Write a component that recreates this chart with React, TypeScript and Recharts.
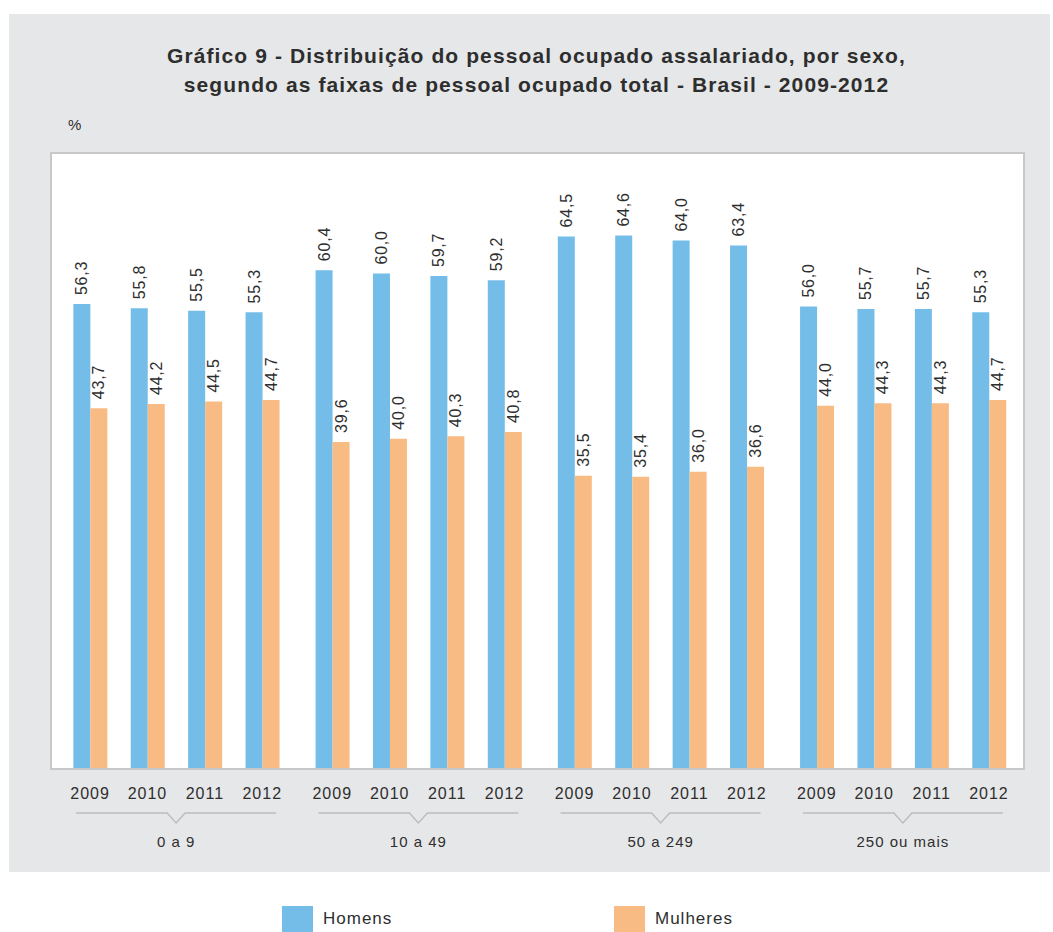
import { BarChart, Bar, XAxis, YAxis, LabelList, ReferenceArea } from 'recharts';

const groups = ['0 a 9', '10 a 49', '50 a 249', '250 ou mais'];
const years = ['2009', '2010', '2011', '2012'];
const homens = [56.3, 55.8, 55.5, 55.3, 60.4, 60.0, 59.7, 59.2, 64.5, 64.6, 64.0, 63.4, 56.0, 55.7, 55.7, 55.3];
const mulheres = [43.7, 44.2, 44.5, 44.7, 39.6, 40.0, 40.3, 40.8, 35.5, 35.4, 36.0, 36.6, 44.0, 44.3, 44.3, 44.7];

// one unit = distance between two years; groups are spaced a bit further apart
const GROUP_STEP = 4.22;
const X_DOMAIN: [number, number] = [-0.68, 16.27];
const Y_MAX = 74.6;

const YEAR_AXIS = 0;
const GROUP_AXIS = 1;

const BLUE = '#74bde8';
const ORANGE = '#f9bb84';
const TEXT = '#2e2e2e';
const FONT = '"Liberation Sans", Arial, sans-serif';

const data = groups.flatMap((g, gi) =>
  years.map((year, yi) => ({
    pos: gi * GROUP_STEP + yi,
    year,
    group: g,
    homens: homens[gi * years.length + yi],
    mulheres: mulheres[gi * years.length + yi]
  }))
);

const yearTicks = data.map((d) => d.pos);
const groupTicks = groups.map((_, gi) => gi * GROUP_STEP + (years.length - 1) / 2);

const fmt = (v: number) => v.toFixed(1).replace('.', ',');

const ValueLabel = (props: any) => {
  const { x, y, width, value } = props;
  const cx = x + width / 2;
  const ty = y - 9;
  return (
    <text
      x={cx}
      y={ty}
      transform={`rotate(-90, ${cx}, ${ty})`}
      textAnchor="start"
      dominantBaseline="central"
      fontSize={16}
      letterSpacing={0.8}
      fill={TEXT}
      fontFamily={FONT}
    >
      {fmt(Number(value))}
    </text>
  );
};

const YearTick = (props: any) => {
  const { x, y, payload } = props;
  const row = data.find((d) => Math.abs(d.pos - payload.value) < 1e-6);
  return (
    <text x={x} y={y} dy={22} textAnchor="middle" fontSize={16} letterSpacing={1} fill={TEXT} fontFamily={FONT}>
      {row ? row.year : ''}
    </text>
  );
};

const GroupTick = (props: any) => {
  const { x, y, payload } = props;
  const gi = groupTicks.findIndex((t) => Math.abs(t - payload.value) < 1e-6);
  const ly = y - 4;
  return (
    <g>
      <path
        d={`M${x - 100},${ly} H${x - 9} L${x},${ly + 10} L${x + 9},${ly} H${x + 100}`}
        fill="none"
        stroke="#bdbdbd"
        strokeWidth={1.5}
      />
      <text x={x} y={ly + 34} textAnchor="middle" fontSize={15} letterSpacing={1} fill={TEXT} fontFamily={FONT}>
        {groups[gi]}
      </text>
    </g>
  );
};

const LegendItem = ({ color, label, left }: { color: string; label: string; left: number }) => (
  <div style={{ position: 'absolute', left, top: 906, display: 'flex', alignItems: 'flex-start' }}>
    <div style={{ width: 31, height: 26, background: color }} />
    <span
      style={{
        marginLeft: 10,
        fontSize: 17,
        letterSpacing: 1,
        color: TEXT,
        fontFamily: FONT,
        lineHeight: '26px'
      }}
    >
      {label}
    </span>
  </div>
);

export default function App() {
  return (
    <div style={{ position: 'absolute', left: 0, top: 0, width: 1053, height: 932, background: '#fff', overflow: 'hidden' }}>
      <div style={{ position: 'absolute', left: 9, top: 14, width: 1041, height: 858, background: '#e6e7e9' }} />
      <div
        style={{
          position: 'absolute',
          left: 0,
          width: 1073,
          top: 41,
          textAlign: 'center',
          fontFamily: FONT,
          fontWeight: 'bold',
          fontSize: 21,
          letterSpacing: 1.1,
          lineHeight: '29px',
          color: TEXT
        }}
      >
        Gráfico 9 - Distribuição do pessoal ocupado assalariado, por sexo,
        <br />
        segundo as faixas de pessoal ocupado total - Brasil - 2009-2012
      </div>
      <div style={{ position: 'absolute', left: 68, top: 116, fontFamily: FONT, fontSize: 15, color: TEXT }}>%</div>
      <div style={{ position: 'absolute', left: 0, top: 0 }}>
        <BarChart
          width={1053}
          height={932}
          data={data}
          margin={{ top: 153, right: 29, left: 51, bottom: 63 }}
          barGap={0}
        >
          <ReferenceArea
            xAxisId={YEAR_AXIS}
            x1={X_DOMAIN[0]}
            x2={X_DOMAIN[1]}
            y1={0}
            y2={Y_MAX}
            fill="#fff"
            fillOpacity={1}
            stroke="#c8c8c8"
            strokeWidth={2}
            ifOverflow="visible"
          />
          <XAxis
            xAxisId={YEAR_AXIS}
            type="number"
            dataKey="pos"
            domain={X_DOMAIN}
            allowDataOverflow
            ticks={yearTicks}
            interval={0}
            tick={<YearTick />}
            tickLine={false}
            axisLine={{ stroke: '#c8c8c8', strokeWidth: 2 }}
            height={40}
          />
          <XAxis
            xAxisId={GROUP_AXIS}
            type="number"
            dataKey="pos"
            domain={X_DOMAIN}
            allowDataOverflow
            ticks={groupTicks}
            interval={0}
            tick={<GroupTick />}
            tickLine={false}
            axisLine={false}
            height={60}
          />
          <YAxis hide domain={[0, Y_MAX]} allowDataOverflow />
          <Bar xAxisId={YEAR_AXIS} dataKey="homens" fill={BLUE} barSize={17} isAnimationActive={false}>
            <LabelList dataKey="homens" content={<ValueLabel />} />
          </Bar>
          <Bar xAxisId={YEAR_AXIS} dataKey="mulheres" fill={ORANGE} barSize={17} isAnimationActive={false}>
            <LabelList dataKey="mulheres" content={<ValueLabel />} />
          </Bar>
        </BarChart>
      </div>
      <LegendItem color={BLUE} label="Homens" left={282} />
      <LegendItem color={ORANGE} label="Mulheres" left={614} />
    </div>
  );
}
